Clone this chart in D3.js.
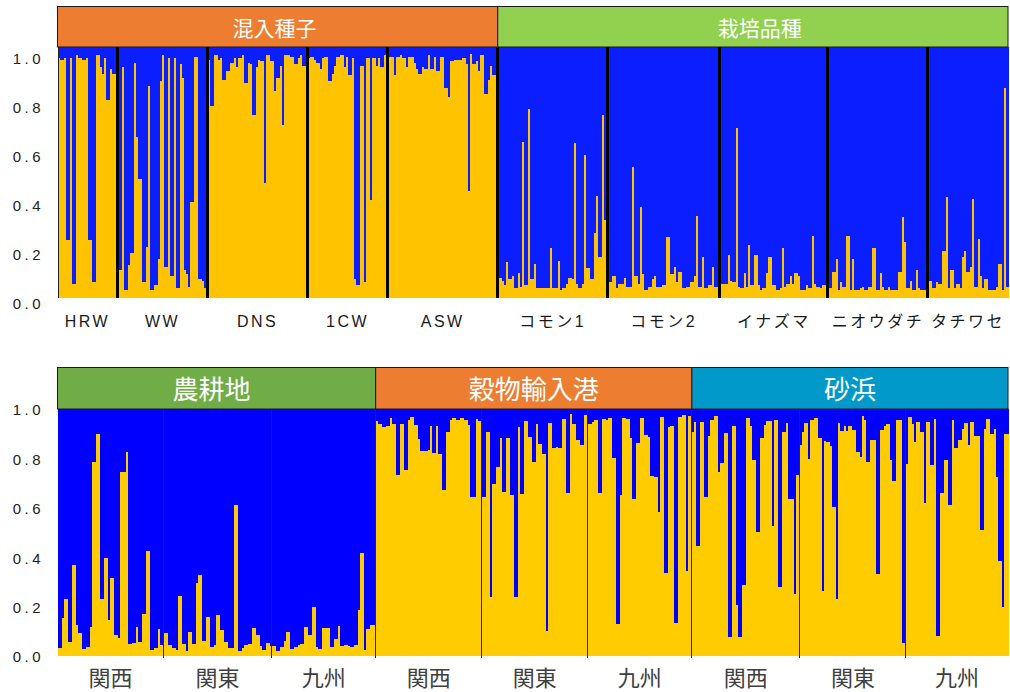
<!DOCTYPE html>
<html><head><meta charset="utf-8">
<script src="https://cdn.jsdelivr.net/npm/d3@7"></script>
<style>body{margin:0;background:#fff}</style>
</head><body>
<svg id="c" width="1010" height="692"></svg>
<script>
// ---------- DATA (proportion of the yellow cluster per individual; blue = 1 - value) ----------
const yTicks = [0, 0.2, 0.4, 0.6, 0.8, 1.0];

// Top panel
const topGroupNames = ["HRW","WW","DNS","1CW","ASW","コモン1","コモン2","イナズマ","ニオウダチ","タチワセ"];
const topHeaderNames = ["混入種子","栽培品種"];
const topHeaderSpans = [5,5];

const HRW = [.957,.947,.947,.957,.231,.231,.957,.056,.056,.969,.957,.957,.947,.947,.957,.231,.231,.064,.064,.969,.969,.92,.894,.957,.79,.79,.913,.894,.894,.894];
const WW = [.112,.112,.92,.032,.032,.13,.18,.18,.937,.642,.475,.475,.064,.064,.203,.846,.032,.032,.052,.052,.156,.866,.969,.124,.124,.957,.088,.088,.957,.04,.04,.934,.878,.112,.096,.044,.383,.383,.961,.961,.076,.076,.068,.04,.04];
const DNS = [.949,.766,.766,.969,.969,.949,.957,.87,.87,.906,.906,.937,.937,.957,.92,.957,.957,.969,.858,.858,.937,.934,.73,.73,.92,.949,.945,.945,.459,.969,.969,.945,.945,.826,.878,.878,.926,.69,.969,.969,.969,.961,.961,.934,.934,.957,.969,.926,.926,.949];
const CW1 = [.957,.961,.961,.949,.937,.937,.913,.957,.961,.961,.866,.866,.894,.926,.961,.961,.969,.969,.92,.961,.89,.89,.957,.076,.052,.052,.926,.926,.064,.957,.957,.391,.957,.957,.926,.957,.92,.92,.969,.961];
const ASW = [.961,.961,.961,.89,.961,.961,.969,.957,.957,.92,.961,.961,.961,.937,.913,.894,.894,.92,.913,.913,.969,.913,.913,.961,.906,.906,.961,.961,.838,.838,.802,.945,.945,.949,.949,.949,.949,.957,.957,.934,.427,.973,.934,.934,.945,.906,.969,.969,.814,.814,.87,.926,.89,.89,.92];
const KOMON1 = [.08,.08,.068,.052,.144,.076,.076,.088,.04,.04,.1,.044,.622,.052,.052,.754,.076,.076,.136,.04,.04,.04,.04,.04,.04,.04,.2,.04,.04,.04,.148,.032,.04,.04,.056,.08,.08,.076,.618,.056,.04,.04,.056,.57,.12,.12,.076,.076,.26,.407,.164,.164,.73,.311,.311];
const KOMON2 = [.064,.064,.088,.088,.04,.056,.056,.056,.08,.044,.044,.044,.523,.088,.088,.056,.363,.096,.032,.032,.044,.044,.076,.088,.044,.044,.044,.052,.052,.243,.243,.096,.096,.124,.064,.104,.104,.04,.04,.044,.044,.064,.064,.088,.327,.044,.044,.164,.04,.04,.052,.052,.124,.044,.044,.044];
const INAZUMA = [.056,.056,.056,.056,.172,.068,.064,.064,.678,.044,.04,.04,.1,.044,.211,.052,.052,.172,.172,.052,.032,.04,.04,.1,.164,.164,.052,.052,.032,.032,.04,.2,.044,.056,.056,.088,.056,.1,.1,.088,.032,.032,.032,.052,.04,.04,.247,.056,.044,.044,.04,.052,.052,.056];
const NIOUDACHI = [.04,.04,.104,.104,.156,.032,.064,.044,.044,.247,.247,.032,.156,.032,.032,.032,.04,.044,.032,.032,.044,.044,.2,.2,.032,.032,.1,.044,.032,.032,.044,.032,.032,.032,.032,.104,.104,.323,.223,.04,.04,.068,.032,.032,.112,.04,.032,.032,.032,.032];
const TACHIWASE = [.068,.068,.04,.04,.064,.056,.056,.188,.188,.403,.04,.112,.112,.04,.056,.056,.04,.164,.188,.104,.104,.124,.395,.044,.044,.235,.088,.04,.076,.076,.032,.032,.032,.032,.044,.136,.136,.032,.838,.044];

// Bottom panel
const bottomGroupNames = ["関西","関東","九州","関西","関東","九州","関西","関東","九州"];
const bottomHeaderNames = ["農耕地","穀物輸入港","砂浜"];
const bottomHeaderSpans = [3,3,3];

const FARM_KANSAI = [.031,.031,.152,.229,.229,.058,.058,.368,.368,.125,.092,.092,.027,.027,.038,.038,.119,.786,.786,.898,.898,.229,.229,.395,.395,.146,.314,.314,.085,.085,.071,.745,.745,.745,.826,.049,.049,.051,.051,.116,.058,.058,.172,.172,.425,.425,.024,.024,.031,.031,.108,.044,.044];
const FARM_KANTO = [.094,.094,.044,.044,.031,.031,.024,.244,.244,.049,.049,.022,.098,.098,.049,.049,.294,.326,.326,.061,.061,.156,.156,.035,.035,.044,.168,.168,.105,.105,.058,.058,.031,.031,.031,.613,.613,.022,.022,.031,.044,.044,.049,.049,.112,.112,.085,.085,.04,.024,.024,.054,.054,.04];
const FARM_KYUSHU = [.04,.04,.022,.022,.035,.035,.062,.098,.098,.027,.027,.038,.038,.044,.049,.049,.119,.119,.085,.085,.2,.2,.038,.027,.027,.112,.112,.112,.112,.035,.035,.067,.067,.121,.04,.04,.044,.044,.04,.035,.035,.044,.044,.186,.418,.418,.024,.108,.108,.125,.125,.125];
const PORT_KANSAI = [.95,.94,.94,.927,.927,.93,.93,.965,.94,.94,.732,.732,.94,.94,.752,.752,.957,.968,.968,.934,.934,.88,.83,.83,.83,.83,.833,.93,.822,.822,.93,.819,.819,.674,.674,.907,.907,.954,.965,.965,.957,.957,.965,.965,.954,.954,.934,.644,.644,.644,.961,.951,.951];
const PORT_KANTO = [.644,.644,.907,.907,.24,.695,.695,.765,.765,.884,.664,.664,.884,.884,.651,.651,.24,.24,.927,.655,.655,.95,.95,.887,.887,.786,.786,.94,.86,.86,.817,.817,.102,.943,.943,.844,.844,.846,.844,.844,.961,.961,.658,.658,.978,.94,.94,.873,.873,.853,.853,.974,.974];
const PORT_KYUSHU = [.938,.938,.947,.954,.954,.66,.66,.961,.961,.954,.965,.965,.803,.803,.129,.129,.651,.965,.965,.961,.961,.884,.637,.637,.863,.863,.965,.965,.894,.894,.887,.728,.728,.725,.725,.584,.968,.968,.337,.337,.927,.93,.93,.135,.135,.968,.968,.974,.974,.345,.97,.97];
const BEACH_KANSAI = [.907,.947,.445,.445,.947,.947,.644,.644,.889,.954,.954,.97,.97,.745,.782,.782,.903,.903,.078,.078,.93,.93,.206,.075,.075,.287,.287,.965,.965,.93,.792,.792,.503,.503,.884,.884,.934,.951,.951,.951,.526,.957,.957,.28,.28,.907,.907,.943,.637,.637,.637,.253,.732,.732];
const BEACH_KANTO = [.853,.907,.943,.943,.797,.957,.957,.965,.965,.884,.884,.264,.871,.867,.867,.849,.604,.604,.229,.943,.911,.911,.93,.911,.93,.93,.914,.914,.826,.826,.806,.97,.957,.786,.786,.876,.876,.876,.334,.334,.916,.916,.93,.938,.938,.792,.709,.709,.957,.957,.957,.051,.051];
const BEACH_KYUSHU = [.779,.968,.968,.941,.867,.947,.947,.907,.907,.62,.947,.947,.772,.772,.961,.081,.081,.66,.66,.795,.795,.611,.611,.954,.844,.844,.873,.873,.92,.943,.943,.853,.947,.947,.889,.889,.889,.512,.512,.92,.961,.961,.898,.898,.92,.725,.385,.385,.197,.898,.898];

const topGroups = [HRW, WW, DNS, CW1, ASW, KOMON1, KOMON2, INAZUMA, NIOUDACHI, TACHIWASE];
const bottomGroups = [FARM_KANSAI, FARM_KANTO, FARM_KYUSHU, PORT_KANSAI, PORT_KANTO, PORT_KYUSHU, BEACH_KANSAI, BEACH_KANTO, BEACH_KYUSHU];

// ---------- DRAWING ----------
const svg = d3.select("#c");
const latin = "'Liberation Sans', Arial, 'Noto Sans CJK JP', sans-serif";
const cjk = "'Noto Sans CJK JP', 'Liberation Sans', sans-serif";

function drawPanel(cfg) {
  const data = cfg.groups.flatMap((g, gi) => g.map(q => ({gi, q})));
  const n = data.length;
  const x = d3.scaleBand().domain(d3.range(n)).range([cfg.x0, cfg.x1]).paddingInner(0).paddingOuter(0);
  const y = d3.scaleLinear().domain([0, 1]).range([cfg.yb, cfg.yt]);
  const starts = [];
  let acc = 0;
  cfg.groups.forEach(g => { starts.push(acc); acc += g.length; });
  const edge = i => i >= n ? cfg.x1 : x(i);

  const g = svg.append("g").attr("shape-rendering", "crispEdges");
  g.selectAll("rect.blue").data(data).join("rect").attr("class", "blue")
    .attr("x", (d, i) => x(i)).attr("width", x.bandwidth() + 0.5)
    .attr("y", y(1)).attr("height", d => y(d.q) - y(1))
    .attr("fill", cfg.blue);
  g.selectAll("rect.yel").data(data).join("rect").attr("class", "yel")
    .attr("x", (d, i) => x(i)).attr("width", x.bandwidth() + 0.5)
    .attr("y", d => y(d.q)).attr("height", d => y(0) - y(d.q))
    .attr("fill", cfg.yellow);

  // group dividers
  g.selectAll("line.div").data(starts.slice(1)).join("line").attr("class", "div")
    .attr("x1", s => x(s)).attr("x2", s => x(s))
    .attr("y1", y(1)).attr("y2", y(0) + cfg.divExt)
    .attr("stroke", cfg.divColor).attr("stroke-width", cfg.divWidth);
  if (cfg.leftLine) {
    g.append("line").attr("x1", cfg.x0 + 0.5).attr("x2", cfg.x0 + 0.5)
      .attr("y1", y(1)).attr("y2", y(0)).attr("stroke", "#222").attr("stroke-width", 1);
  }

  // headers
  let gAcc = 0;
  const hdr = svg.append("g");
  cfg.headerNames.forEach((name, hi) => {
    const gs = gAcc, ge = gAcc + cfg.headerSpans[hi];
    gAcc = ge;
    const hx0 = edge(starts[gs]);
    const hx1 = ge >= starts.length ? cfg.x1 : edge(starts[ge]);
    hdr.append("rect").attr("x", hx0).attr("y", cfg.hy0)
      .attr("width", hx1 - hx0).attr("height", cfg.hy1 - cfg.hy0)
      .attr("fill", cfg.headerColors[hi]).attr("stroke", "#1a1a1a").attr("stroke-width", 1);
    hdr.append("text").attr("x", (hx0 + hx1) / 2 + cfg.headerDx[hi]).attr("y", cfg.hBase)
      .attr("text-anchor", "middle").attr("fill", "#fff")
      .attr("font-family", cjk).attr("font-size", cfg.hFont).text(name);
  });

  // y labels
  const yl = d3.scaleLinear().domain([0, 1]).range(cfg.labRange);
  const ga = svg.append("g").attr("transform", `translate(${cfg.labX},0)`)
    .call(d3.axisLeft(yl).tickValues(yTicks).tickFormat(d3.format(".1f")).tickSize(0).tickPadding(0));
  ga.select(".domain").remove();
  ga.attr("font-family", latin).attr("font-size", 15);
  ga.selectAll("text").attr("fill", "#222").attr("letter-spacing", "3.5px");

  // group labels
  svg.append("g").selectAll("text").data(cfg.groupNames).join("text")
    .attr("x", (d, i) => (edge(starts[i]) + edge(starts[i] + cfg.groups[i].length)) / 2)
    .attr("y", cfg.labBase).attr("text-anchor", "middle")
    .attr("font-family", cfg.glFamily).attr("font-size", cfg.glFont)
    .attr("letter-spacing", cfg.glSpacing).attr("fill", cfg.glColor)
    .text(d => d);
}

drawPanel({
  groups: topGroups, groupNames: topGroupNames,
  headerNames: topHeaderNames, headerSpans: topHeaderSpans,
  headerColors: ["#ED7D31", "#92D050"], headerDx: [-3, 7],
  x0: 57.5, x1: 1008, yt: 47, yb: 298,
  blue: "#0A1EFF", yellow: "#FFC300",
  divColor: "#000", divWidth: 3, divExt: 0, leftLine: true,
  hy0: 6.5, hy1: 47, hBase: 36, hFont: 21,
  labRange: [304, 59], labX: 44,
  labBase: 327, glFamily: latin, glFont: 16, glSpacing: "2.5px", glColor: "#1a1a1a"
});

drawPanel({
  groups: bottomGroups, groupNames: bottomGroupNames,
  headerNames: bottomHeaderNames, headerSpans: bottomHeaderSpans,
  headerColors: ["#70AD47", "#ED7D31", "#0099CA"], headerDx: [-5, 0, 0],
  x0: 57.5, x1: 1008, yt: 409, yb: 656,
  blue: "#0000FF", yellow: "#FFCC00",
  divColor: "#2a2a2a", divWidth: 1, divExt: 2, leftLine: false,
  hy0: 367.5, hy1: 409, hBase: 399, hFont: 26,
  labRange: [657, 410], labX: 44,
  labBase: 686, glFamily: cjk, glFont: 22, glSpacing: "0px", glColor: "#404040"
});
</script>
</body></html>
